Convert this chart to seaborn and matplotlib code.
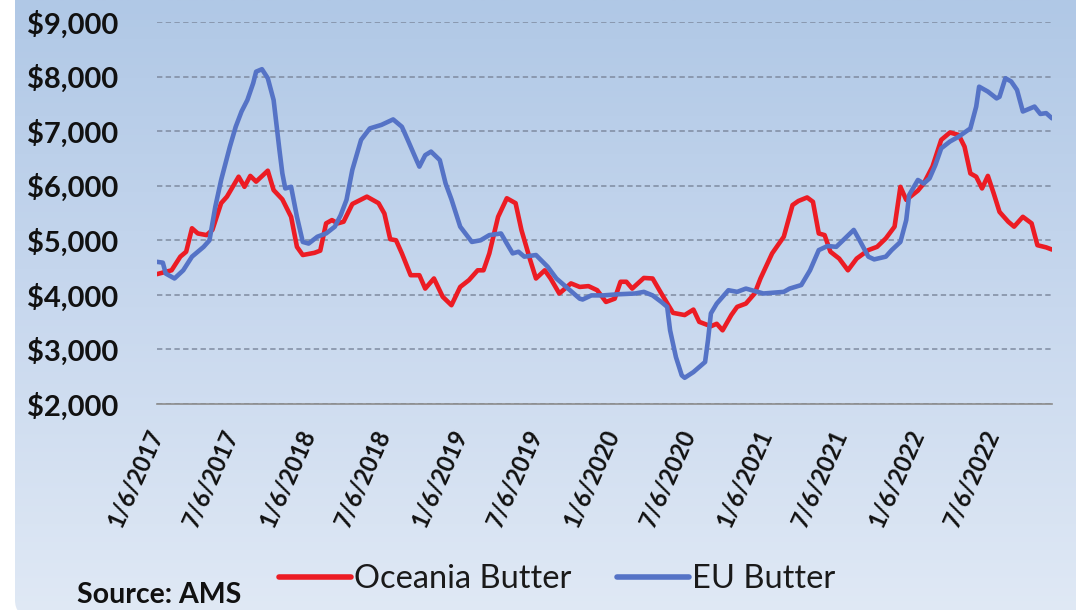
import numpy as np
import pandas as pd
import matplotlib
matplotlib.use("Agg")
import matplotlib.pyplot as plt
from matplotlib.colors import LinearSegmentedColormap
from matplotlib.patches import FancyBboxPatch
from matplotlib.ticker import FuncFormatter
import seaborn as sns

# Weekly price data (USD/MT), week index counted from 1/6/2017
start_date = "2017-01-06"

oceania_weeks = [0, 5, 8, 10, 12, 14, 17, 19, 22, 24, 28, 30, 32, 34, 38, 40, 43, 46, 48, 50,
                 54, 56, 58, 60, 62, 64, 67, 72, 76, 78, 80, 82, 84, 87, 90, 92, 95, 98, 101, 104,
                 107, 110, 112, 114, 117, 120, 123, 125, 128, 130, 133, 135, 138, 142, 145, 148, 151, 154, 157, 159,
                 161, 163, 167, 170, 173, 177, 181, 184, 186, 190, 192, 194, 197, 199, 202, 205, 207, 211, 215, 218,
                 220, 223, 225, 227, 229, 231, 234, 237, 240, 244, 247, 250, 253, 255, 257, 261, 263, 266, 269, 272,
                 275, 277, 279, 281, 283, 285, 287, 289, 292, 294, 297, 300, 302, 305, 307]
oceania_price = [4380, 4450, 4700, 4790, 5220, 5125, 5095, 5190, 5680, 5800, 6165, 5980, 6180, 6075, 6275, 5920, 5750, 5430, 4880, 4730,
                 4770, 4810, 5310, 5370, 5310, 5340, 5665, 5800, 5680, 5490, 5020, 5000, 4760, 4360, 4360, 4115, 4300, 3965, 3810, 4145,
                 4270, 4450, 4450, 4760, 5430, 5770, 5680, 5190, 4640, 4300, 4450, 4300, 4025, 4210, 4145, 4160, 4085, 3870, 3930, 4240,
                 4240, 4115, 4310, 4300, 4025, 3670, 3630, 3730, 3505, 3425, 3470, 3350, 3630, 3780, 3840, 4025, 4300, 4760, 5065, 5645,
                 5720, 5785, 5705, 5125, 5095, 4790, 4665, 4450, 4665, 4820, 4880, 5035, 5250, 5980, 5740, 5910, 6040, 6350, 6840, 6975,
                 6930, 6715, 6225, 6165, 5950, 6180, 5860, 5520, 5340, 5250, 5430, 5310, 4910, 4870, 4830]

eu_weeks = [0, 2, 3, 6, 9, 12, 16, 18, 20, 22, 25, 27, 29, 31, 33, 34, 36, 38, 40, 42,
            43, 44, 46, 48, 50, 52, 55, 58, 61, 63, 65, 67, 70, 73, 77, 81, 84, 86, 89, 90,
            92, 94, 97, 99, 101, 104, 108, 111, 114, 118, 120, 122, 124, 126, 130, 134, 137, 141, 145, 146,
            149, 153, 158, 164, 167, 170, 173, 175, 176, 178, 180, 181, 184, 188, 189, 190, 192, 196, 199, 202,
            205, 208, 215, 217, 221, 224, 227, 230, 233, 236, 239, 241, 244, 246, 250, 252, 255, 257, 258, 261,
            263, 265, 267, 269, 272, 275, 279, 281, 282, 285, 288, 289, 291, 293, 295, 297, 301, 303, 305, 307]
eu_price = [4605, 4590, 4390, 4300, 4450, 4700, 4880, 5000, 5615, 6105, 6715, 7080, 7360, 7570, 7880, 8090, 8135, 7970, 7570, 6655,
            6225, 5950, 5980, 5430, 4970, 4940, 5065, 5125, 5250, 5460, 5740, 6290, 6840, 7050, 7115, 7215, 7080, 6840, 6470, 6350,
            6560, 6625, 6470, 6040, 5750, 5250, 4970, 5000, 5095, 5125, 4940, 4760, 4790, 4700, 4730, 4515, 4300, 4115, 3930, 3915,
            3990, 3990, 4010, 4025, 4055, 3990, 3870, 3780, 3350, 2860, 2525, 2480, 2585, 2770, 3170, 3660, 3840, 4085, 4055, 4115,
            4070, 4025, 4055, 4115, 4180, 4450, 4820, 4895, 4880, 5035, 5190, 5000, 4700, 4650, 4700, 4820, 4970, 5370, 5830, 6105,
            6040, 6135, 6380, 6685, 6810, 6900, 7050, 7450, 7815, 7725, 7600, 7630, 7970, 7910, 7755, 7360, 7450, 7315, 7330, 7235]

series_names = ["Oceania Butter", "EU Butter"]
series_colors = ["#EC1C24", "#5573C6"]

tick_dates = ["2017-01-06", "2017-07-06", "2018-01-06", "2018-07-06", "2019-01-06", "2019-07-06",
              "2020-01-06", "2020-07-06", "2021-01-06", "2021-07-06", "2022-01-06", "2022-07-06"]
tick_labels = ["1/6/2017", "7/6/2017", "1/6/2018", "7/6/2018", "1/6/2019", "7/6/2019",
               "1/6/2020", "7/6/2020", "1/6/2021", "7/6/2021", "1/6/2022", "7/6/2022"]
y_ticks = [2000, 3000, 4000, 5000, 6000, 7000, 8000, 9000]

sns.set_style("white")
plt.rcParams["font.family"] = ["Lato", "DejaVu Sans"]

t0 = pd.Timestamp(start_date)
df = pd.concat([
    pd.DataFrame({"Tarih": t0 + pd.to_timedelta(np.array(oceania_weeks) * 7, unit="D"),
                  "Fiyat": oceania_price, "Seri": series_names[0]}),
    pd.DataFrame({"Tarih": t0 + pd.to_timedelta(np.array(eu_weeks) * 7, unit="D"),
                  "Fiyat": eu_price, "Seri": series_names[1]}),
], ignore_index=True)

W, H = 1076, 610
fig = plt.figure(figsize=(W / 100, H / 100), dpi=100, facecolor="white")

# gradient background panel with rounded corner
bg = fig.add_axes([0, 0, 1, 1])
grad_cmap = LinearSegmentedColormap.from_list("bg", ["#b0c8e6", "#c8d8ee", "#e0e9f5"])
im = bg.imshow(np.linspace(0, 1, 256).reshape(-1, 1), extent=[15, W + 5, -5, H], aspect="auto",
               cmap=grad_cmap, origin="upper")
box = FancyBboxPatch((15, -6), W + 40, H + 40, boxstyle="round,pad=0,rounding_size=16",
                     facecolor="none", edgecolor="none")
bg.add_patch(box)
im.set_clip_path(box)
bg.set_xlim(0, W)
bg.set_ylim(0, H)
bg.axis("off")

ax = fig.add_axes([157 / W, 206 / H, (1052 - 157) / W, (588 - 206) / H])
ax.set_facecolor("none")

sns.lineplot(data=df, x="Tarih", y="Fiyat", hue="Seri", hue_order=series_names,
             palette=series_colors, linewidth=3.3, legend=False, ax=ax)

ax.set_xlim(t0, t0 + pd.Timedelta(days=7 * 307))
ax.set_ylim(y_ticks[0], y_ticks[-1])
ax.set_yticks(y_ticks)
ax.yaxis.set_major_formatter(FuncFormatter(lambda v, p: f"${v:,.0f}"))
ax.yaxis.grid(True, linestyle=(0, (3.5, 2.2)), color="#7f8ba0", linewidth=1.1)
ax.xaxis.grid(False)
ax.set_axisbelow(True)

ax.set_xticks(pd.to_datetime(tick_dates))
ax.set_xticklabels(tick_labels, rotation=66, ha="right", va="center", rotation_mode="anchor",
                   fontweight="bold", fontsize=17, color="#111111")
ax.tick_params(axis="x", direction="out", length=5, width=1, color="#8c8c8c", pad=14)
ax.tick_params(axis="y", length=0, pad=28, labelsize=21, labelcolor="#111111")
for lab in ax.get_yticklabels():
    lab.set_fontweight("bold")

for side in ["left", "right", "top"]:
    ax.spines[side].set_visible(False)
ax.spines["bottom"].set_color("#8c8c8c")
ax.spines["bottom"].set_linewidth(1.2)
ax.set_xlabel("")
ax.set_ylabel("")

handles = ax.get_lines()[:2]
fig.legend(handles, series_names, loc="center", bbox_to_anchor=(557 / W, 1 - 579 / H), ncol=2,
           frameon=False, fontsize=23.5, handlelength=2.2, handletextpad=0.1, columnspacing=1.4,
           labelcolor="#1a1a1a")
for line in fig.legends[0].get_lines():
    line.set_linewidth(4)

fig.text(77 / W, 7 / H, "Source: AMS", fontsize=20.5, fontweight="bold", color="#111111",
         ha="left", va="baseline")

fig.savefig("out.png", dpi=100, facecolor=fig.get_facecolor())
